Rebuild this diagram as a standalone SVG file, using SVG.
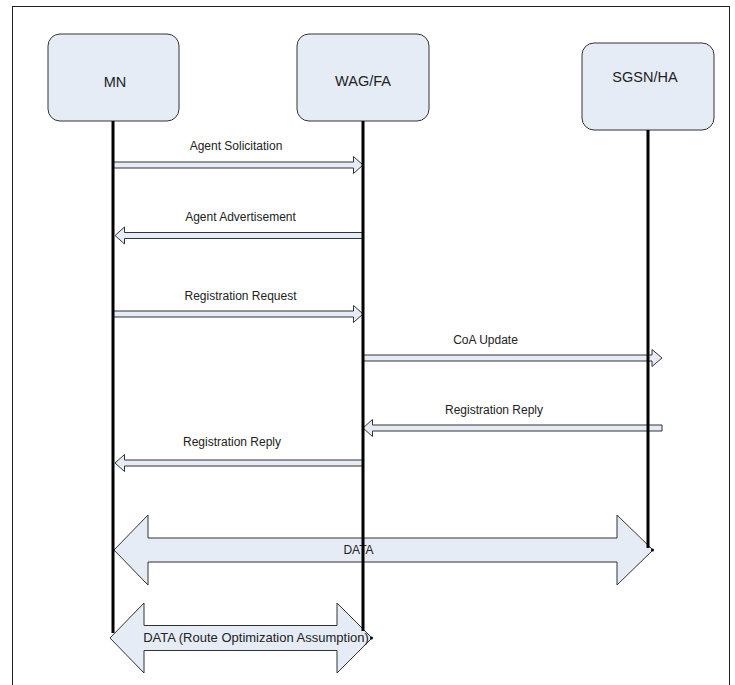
<svg xmlns="http://www.w3.org/2000/svg" width="735" height="685" viewBox="0 0 735 685">
  <style>
    .frame { fill: none; stroke: #222; stroke-width: 1; }
    .node rect { fill: #e6ecf6; stroke: #333; stroke-width: 1; }
    .node text { font-family: "Liberation Sans", Arial, sans-serif; font-size: 14.5px; fill: #222; text-anchor: middle; }
    .life { stroke: #000; stroke-width: 3; fill: none; }
    .msg { fill: #e6ecf6; stroke: #333; stroke-width: 1; stroke-linejoin: miter; }
    .lbl { font-family: "Liberation Sans", Arial, sans-serif; font-size: 12px; fill: #222; text-anchor: middle; }
    .big { fill: #e6ecf6; stroke: #333; stroke-width: 1; }
  </style>

  <!-- outer frame -->
  <rect class="frame" x="12.5" y="6.5" width="717" height="700"/>

  <!-- participants -->
  <g id="node-mn" class="node">
    <rect x="48" y="34" width="131" height="87" rx="12" ry="12"/>
    <text x="115" y="87">MN</text>
  </g>
  <g id="node-wag" class="node">
    <rect x="297" y="34" width="132" height="87" rx="12" ry="12"/>
    <text x="363" y="86">WAG/FA</text>
  </g>
  <g id="node-sgsn" class="node">
    <rect x="582" y="43" width="132" height="87" rx="12" ry="12"/>
    <text x="645" y="82">SGSN/HA</text>
  </g>

  <g id="connectors">
    <!-- data transfer arrows -->
    <polygon class="big" points="114,550 148,515 148,538 617,538 617,515 653,550 617,585 617,562 148,562 148,585"/>
    <text class="lbl" x="358.5" y="554">DATA</text>
    <polygon class="big" points="110,638 144,603 144,625.5 337,625.5 337,603 372,638 337,673 337,650.5 144,650.5 144,673"/>

    <!-- signalling messages -->
    <polygon class="msg" points="113,162 353.5,162 353.5,156.5 363,165 353.5,173.5 353.5,168 113,168"/>
    <text class="lbl" x="236" y="150">Agent Solicitation</text>

    <polygon class="msg" points="363,232.5 124.5,232.5 124.5,227 115,235.5 124.5,244 124.5,238.5 363,238.5"/>
    <text class="lbl" x="240.5" y="220.5">Agent Advertisement</text>

    <polygon class="msg" points="113,311 353.5,311 353.5,305.5 363,314 353.5,322.5 353.5,317 113,317"/>
    <text class="lbl" x="240.5" y="300">Registration Request</text>

    <polygon class="msg" points="363,355 652,355 652,349.5 662,358 652,366.5 652,361 363,361"/>
    <text class="lbl" x="485.5" y="344">CoA Update</text>

    <polygon class="msg" points="662,425 372.5,425 372.5,419.5 363,428 372.5,436.5 372.5,431 662,431"/>
    <text class="lbl" x="494" y="414">Registration Reply</text>

    <polygon class="msg" points="363,460 124.5,460 124.5,454.5 115,463 124.5,471.5 124.5,466 363,466"/>
    <text class="lbl" x="232" y="446">Registration Reply</text>

    <!-- lifelines -->
    <line class="life" x1="113" y1="121" x2="113" y2="633"/>
    <line class="life" x1="363" y1="121" x2="363" y2="631"/>
    <line class="life" x1="648" y1="130" x2="648" y2="548"/>
    <circle cx="652.5" cy="550" r="1.5" fill="#000"/>
    <circle cx="371.5" cy="638" r="1.5" fill="#000"/>

    <text class="lbl" x="256" y="642" style="font-size:13px">DATA (Route Optimization Assumption)</text>
  </g>
</svg>
